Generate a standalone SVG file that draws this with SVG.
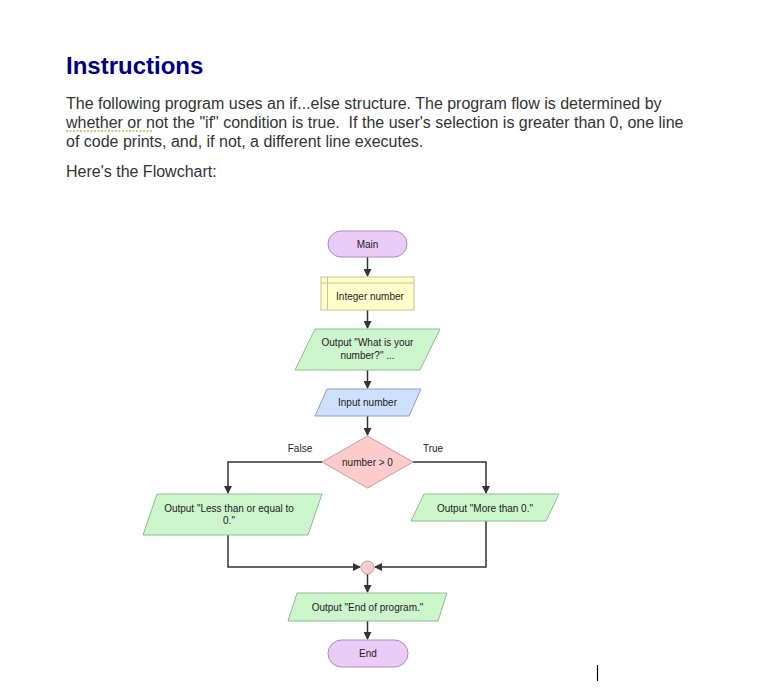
<svg xmlns="http://www.w3.org/2000/svg" width="762" height="693" viewBox="0 0 762 693">
<style>
.t{font-family:"Liberation Sans",Arial,sans-serif;font-size:10px;fill:#222;text-anchor:middle}
.p{font-family:"Liberation Sans",Arial,sans-serif;font-size:16px;fill:#333}
.ln{fill:none;stroke:#333;stroke-width:1.5}
.term{fill:#eaccf7;stroke:#a98bc4;stroke-width:1}
.out{fill:#ccf5cc;stroke:#8cbf8c;stroke-width:1}
</style>
<defs>
<marker id="ah" markerWidth="8" markerHeight="8" refX="7" refY="4" orient="auto" markerUnits="userSpaceOnUse">
<path d="M0,0 L8,4 L0,8 Z" fill="#333"/>
</marker>
</defs>
<rect width="762" height="693" fill="#fff"/>
<text x="66" y="74" font-family="'Liberation Sans',Arial,sans-serif" font-size="24" font-weight="bold" fill="#000080">Instructions</text>
<text class="p" x="66" y="109">The following program uses an if...else structure. The program flow is determined by</text>
<text class="p" x="66" y="128" xml:space="preserve">whether or not the "if" condition is true.  If the user's selection is greater than 0, one line</text>
<text class="p" x="66" y="147">of code prints, and, if not, a different line executes.</text>
<path d="M66,131 H153" stroke="#b8860b" stroke-width="1.2" stroke-dasharray="2,1.5" fill="none"/>
<text class="p" x="66" y="177">Here's the Flowchart:</text>

<g id="connectors">
<path class="ln" d="M367.5,257 V276" marker-end="url(#ah)"/>
<path class="ln" d="M367.5,310 V328" marker-end="url(#ah)"/>
<path class="ln" d="M367.5,370 V388" marker-end="url(#ah)"/>
<path class="ln" d="M367.5,416 V435" marker-end="url(#ah)"/>
<path class="ln" d="M322,462 H228 V493" marker-end="url(#ah)"/>
<path class="ln" d="M413,462 H486 V493" marker-end="url(#ah)"/>
<path class="ln" d="M228,535 V567 H360" marker-end="url(#ah)"/>
<path class="ln" d="M486,521 V567 H375" marker-end="url(#ah)"/>
<path class="ln" d="M367.5,574 V592" marker-end="url(#ah)"/>
<path class="ln" d="M367.5,621 V639" marker-end="url(#ah)"/>
<text x="300" y="452" font-family="'Liberation Sans',Arial,sans-serif" font-size="10" fill="#222" text-anchor="middle">False</text>
<text x="433" y="452" font-family="'Liberation Sans',Arial,sans-serif" font-size="10" fill="#222" text-anchor="middle">True</text>
</g>

<g id="main">
<rect class="term" x="328" y="231" width="79" height="26" rx="13"/>
<text class="t" x="367.5" y="247.5">Main</text>
</g>
<g id="decl">
<rect x="321" y="277" width="93" height="33" fill="#ffffcc" stroke="#c9c392" stroke-width="1"/>
<path d="M327.5,277 V310 M321,283 H414" stroke="#c9c392" stroke-width="1" fill="none"/>
<text class="t" x="370" y="300">Integer number</text>
</g>
<g id="output1">
<polygon class="out" points="315,329 440,329 420,370 295,370"/>
<text class="t" x="367.5" y="346">Output "What is your</text>
<text class="t" x="367.5" y="359">number?" ...</text>
</g>
<g id="input">
<polygon points="327,389 421,389 409,416 315,416" fill="#cfe0fc" stroke="#8c9fcc" stroke-width="1"/>
<text class="t" x="367.5" y="406">Input number</text>
</g>
<g id="decision">
<polygon points="367.5,436 413,462 367.5,488 322,462" fill="#fccccc" stroke="#cc9c9c" stroke-width="1"/>
<text class="t" x="367.5" y="465.5">number &gt; 0</text>
</g>
<g id="outputFalse">
<polygon class="out" points="157,494 322,494 308,535 143,535"/>
<text class="t" x="229" y="512">Output "Less than or equal to</text>
<text class="t" x="229" y="524">0."</text>
</g>
<g id="outputTrue">
<polygon class="out" points="424,494 559,494 546,521 411,521"/>
<text class="t" x="485" y="511.5">Output "More than 0."</text>
</g>
<g id="join">
<circle cx="367.5" cy="567.5" r="6.5" fill="#fccccc" stroke="#cc9c9c" stroke-width="1"/>
</g>
<g id="output2">
<polygon class="out" points="297,593 447,593 438,621 288,621"/>
<text class="t" x="367.5" y="610.5">Output "End of program."</text>
</g>
<g id="end">
<rect class="term" x="328" y="640" width="80" height="27" rx="13.5"/>
<text class="t" x="368" y="657">End</text>
</g>
<path d="M597.5,665 V681" stroke="#000" stroke-width="1.2"/>
</svg>
